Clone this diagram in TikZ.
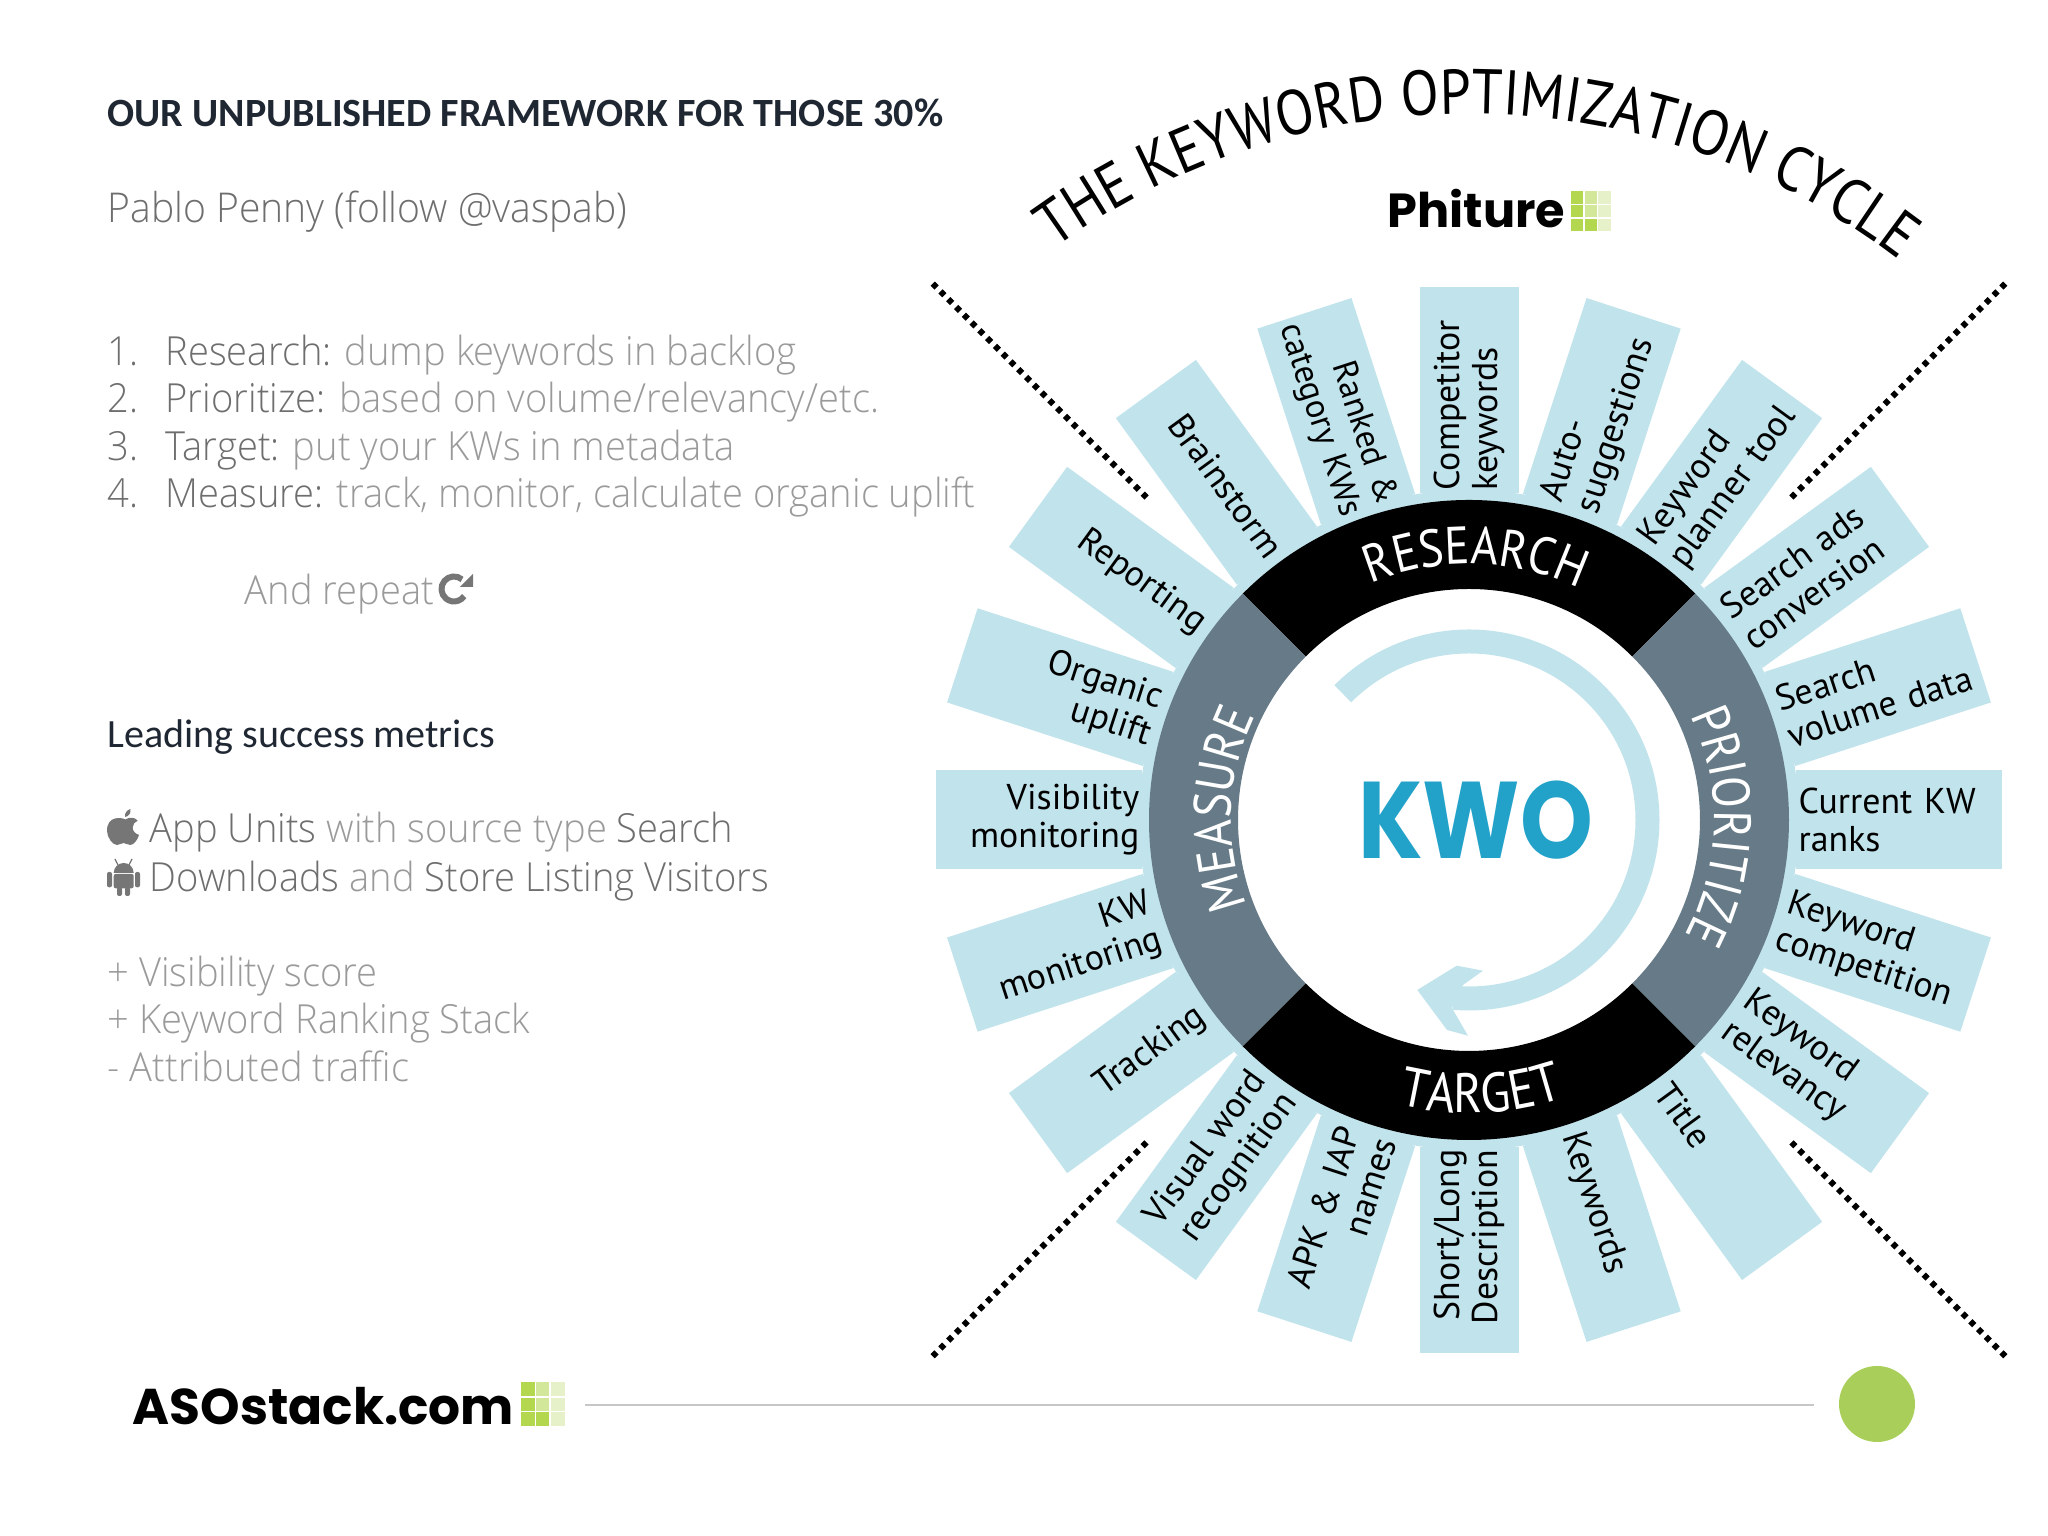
\documentclass[tikz,border=0pt]{standalone}
\usepackage{fontspec}
\setmainfont[WordSpace=0.7]{PT Sans}
\newfontfamily\headfont{Carlito}
\newfontfamily\leadfont[FakeStretch=0.95]{Open Sans Light}
\newfontfamily\brandfont{Poppins}
\newfontfamily\kwofont[FakeStretch=0.85]{Poppins}
\newfontfamily\archfont[FakeStretch=0.88]{PT Sans}
\usetikzlibrary{positioning,calc,decorations.text}
\definecolor{bladeblue}{HTML}{C1E3EB}
\definecolor{ringgrey}{HTML}{667B87}
\definecolor{kwoblue}{HTML}{23A2C9}
\definecolor{inkdark}{HTML}{1F2733}
\definecolor{inkmid}{HTML}{6E6E6E}
\definecolor{inklight}{HTML}{9A9A9A}
\definecolor{icongrey}{HTML}{767676}
\definecolor{tileA}{HTML}{B3D850}
\definecolor{tileB}{HTML}{D2E79A}
\definecolor{tileC}{HTML}{E6F1C9}
\definecolor{dotgreen}{HTML}{A9CF5A}
\tikzstyle{bladebase} = [rectangle, fill=bladeblue, inner xsep=.03cm, inner ysep=0, %
   minimum height=.99cm, text width=2cm, font=\fontsize{10.2}{10.8}\selectfont]
\tikzstyle{bladeout} = [bladebase, anchor=west, align=left]
\tikzstyle{bladein} = [bladebase, anchor=east, align=right]
\tikzstyle{heading} = [anchor=base west, inner sep=0, text=inkdark]
\tikzstyle{leadline} = [anchor=base west, inner sep=0, font=\leadfont\fontsize{11.4}{13}\selectfont]
\tikzstyle{ringtext} = [decorate, decoration={text along path, text align=center, %
   text color=white}]
\tikzstyle{cutline} = [line width=.06cm, dash pattern=on .055cm off .055cm]
\tikzset{tiles/.pic={
   \fill[tileC] (0,0) rectangle (1,1);
   \fill[tileA] (0,0) rectangle (.32,1);
   \fill[tileB] (.34,0) rectangle (.66,1);
   \fill[tileA] (.34,0) rectangle (.66,.32);
   \draw[white, line width=.015cm] (0,.33) -- (1,.33) (0,.66) -- (1,.66) (.33,0) -- (.33,1) (.66,0) -- (.66,1);
}}

\begin{document}
\begin{tikzpicture}
   \useasboundingbox (0,0) rectangle (20.48,15.36);

   % LEFT COLUMN %%%%%%%%%%%%%%%%%%%%%%%%%%%%%%%%%%%%%%%%%%%%%%%%%%
   \node[heading, font=\headfont\bfseries\fontsize{11.4}{13}\selectfont] (framework) at (1.07,14.09)
      {OUR UNPUBLISHED FRAMEWORK FOR THOSE 30\%};
   \node[leadline, text=inkmid, font=\leadfont\fontsize{11.7}{13}\selectfont] (author) at (1.07,13.13) {Pablo Penny (follow @vaspab)};

   \node[leadline, text=inkmid] (num1) at (1.07,11.70) {1.};
   \node[leadline, text=inkmid, below=.47 of num1.base west, anchor=base west] (num2) {2.};
   \node[leadline, text=inkmid, below=.48 of num2.base west, anchor=base west] (num3) {3.};
   \node[leadline, text=inkmid, below=.47 of num3.base west, anchor=base west] (num4) {4.};
   \node[leadline, text=inklight] (step1) at (1.65,11.70) {\textcolor{inkmid}{Research:} dump keywords in backlog};
   \node[leadline, text=inklight, below=.47 of step1.base west, anchor=base west] (step2)
      {\textcolor{inkmid}{Prioritize:} based on volume/relevancy/etc.};
   \node[leadline, text=inklight, below=.48 of step2.base west, anchor=base west] (step3)
      {\textcolor{inkmid}{Target:} put your KWs in metadata};
   \node[leadline, text=inklight, below=.47 of step3.base west, anchor=base west] (step4)
      {\textcolor{inkmid}{Measure:} track, monitor, calculate organic uplift};
   \node[leadline, text=inklight] (repeat) at (2.44,9.31) {And repeat};
   \coordinate (repeaticon) at (4.54,9.47);
   \draw[icongrey, line width=.06cm] ($(repeaticon)+(50:.125)$) arc (50:325:.125);
   \fill[icongrey] ($(repeaticon)+(.19,.15)$) -- ($(repeaticon)+(.19,.02)$) -- ($(repeaticon)+(.06,.02)$) -- cycle;

   \node[heading, font=\headfont\fontsize{11.4}{13}\selectfont] (metrics) at (1.07,7.88) {Leading success metrics};
   \node[leadline, text=inklight] (units) at (1.49,6.93)
      {\textcolor{inkmid}{App Units} with source type \textcolor{inkmid}{Search}};
   \node[leadline, text=inklight, below=.49 of units.base west, anchor=base west] (visits)
      {\textcolor{inkmid}{Downloads} and \textcolor{inkmid}{Store Listing Visitors}};
   \begin{scope}[shift={(1.07,6.91)}]
      \fill[icongrey] (.183,.255) .. controls (.14,.28) and (0,.29) .. (0,.143)
         .. controls (0,.07) and (.06,0) .. (.10,0) .. controls (.13,0) and (.14,.02) .. (.167,.02)
         .. controls (.19,.02) and (.2,0) .. (.233,0) .. controls (.27,0) and (.31,.06) .. (.32,.10)
         .. controls (.28,.115) and (.255,.14) .. (.257,.177) .. controls (.257,.21) and (.28,.23) .. (.307,.243)
         .. controls (.28,.28) and (.22,.28) .. (.183,.255) -- cycle;
      \fill[icongrey] (.18,.28) .. controls (.175,.32) and (.2,.35) .. (.235,.36)
         .. controls (.24,.32) and (.22,.285) .. (.18,.28) -- cycle;
   \end{scope}
   \begin{scope}[shift={(1.07,6.40)}]
      \fill[icongrey] (.067,.23) arc (180:0:.1) -- cycle;
      \fill[icongrey, rounded corners=.02cm] (.067,.077) rectangle (.267,.22);
      \fill[icongrey, rounded corners=.02cm] (0,.087) rectangle (.05,.24);
      \fill[icongrey, rounded corners=.02cm] (.28,.087) rectangle (.33,.24);
      \fill[icongrey, rounded corners=.02cm] (.10,0) rectangle (.15,.09);
      \fill[icongrey, rounded corners=.02cm] (.18,0) rectangle (.23,.09);
      \draw[icongrey, line width=.012cm] (.11,.31) -- (.08,.37) (.22,.31) -- (.25,.37);
   \end{scope}

   \node[leadline, text=inklight] (score) at (1.07,5.49) {+ Visibility score};
   \node[leadline, text=inklight, below=.47 of score.base west, anchor=base west] (stack) {+ Keyword Ranking Stack};
   \node[leadline, text=inklight, below=.48 of stack.base west, anchor=base west] (traffic) {- Attributed traffic};

   % FOOTER %%%%%%%%%%%%%%%%%%%%%%%%%%%%%%%%%%%%%%%%%%%%%%%%%%%%%%%
   \node[anchor=base west, inner sep=0, font=\brandfont\bfseries\fontsize{14.3}{16}\selectfont] (aso) at (1.32,1.11) {ASOstack.com};
   \pic[scale=.44] at (5.21,1.10) {tiles};
   \coordinate (rulestart) at (5.85,1.31);
   \coordinate (ruleend) at (18.14,1.31);
   \draw[black!22, line width=.015cm] (rulestart) -- (ruleend);
   \node[circle, fill=dotgreen, minimum size=.76cm, inner sep=0] (dot) at (18.77,1.32) {};

   % WHEEL %%%%%%%%%%%%%%%%%%%%%%%%%%%%%%%%%%%%%%%%%%%%%%%%%%%%%%%%
   \begin{scope}[shift={(14.69,7.16)}]
      \draw[decorate, decoration={text along path, text align=center,
         text={|\archfont\fontsize{18}{18}\selectfont|THE KEYWORD OPTIMIZATION CYCLE}}]
         (135:7.06) arc (135:43.4:7.06);
      \node[anchor=base west, inner sep=0, font=\brandfont\bfseries\fontsize{13.6}{14}\selectfont] (phiture) at (-.82,5.92) {Phiture};
      \pic[scale=.40] at (1.02,5.89) {tiles};

      % Cut lines
      \draw[cutline] (45:4.56) -- (45:7.62);
      \draw[cutline] (135:4.56) -- (135:7.62);
      \draw[cutline] (225:4.56) -- (225:7.62);
      \draw[cutline] (315:4.56) -- (315:7.62);

      % Blades
      \fill[bladeblue, even odd rule] (0,0) circle (3.3) circle (3);
      \node[bladeout, rotate=90] (competitor) at (90:3.26) {Competitor\\keywords};
      \node[bladeout, rotate=72] (auto) at (72:3.26) {Auto-\\suggestions};
      \node[bladeout, rotate=54] (planner) at (54:3.26) {Keyword\\planner tool};
      \node[bladeout, rotate=36] (ads) at (36:3.26) {Search ads\\conversion};
      \node[bladeout, rotate=18] (volume) at (18:3.26) {Search\\volume data};
      \node[bladeout, rotate=0] (ranks) at (0:3.26) {Current KW\\ranks};
      \node[bladeout, rotate=-18] (competition) at (-18:3.26) {Keyword\\competition};
      \node[bladeout, rotate=-36] (relevancy) at (-36:3.26) {Keyword\\relevancy};
      \node[bladeout, rotate=-54] (title) at (-54:3.26) {Title};
      \node[bladeout, rotate=-72] (keywords) at (-72:3.26) {Keywords};
      \node[bladein, rotate=90] (description) at (270:3.26) {Short/Long\\Description};
      \node[bladein, rotate=72] (apk) at (252:3.26) {APK \& IAP\\names};
      \node[bladein, rotate=54] (visual) at (234:3.26) {Visual word\\recognition};
      \node[bladein, rotate=36] (tracking) at (216:3.26) {Tracking};
      \node[bladein, rotate=18] (kwmon) at (198:3.26) {KW\\monitoring};
      \node[bladein, rotate=0] (visibility) at (180:3.26) {Visibility\\monitoring};
      \node[bladein, rotate=-18] (organic) at (162:3.26) {Organic\\uplift};
      \node[bladein, rotate=-36] (reporting) at (144:3.26) {Reporting};
      \node[bladein, rotate=-54] (brainstorm) at (126:3.26) {Brainstorm};
      \node[bladein, rotate=-72, inner xsep=0, text width=2.06cm, font=\fontsize{9.8}{10.8}\selectfont] (ranked) at (108:3.26) {Ranked \&\\category KWs};

      % Ring
      \fill[black] (45:3.2) arc (45:135:3.2) -- (135:2.31) arc (135:45:2.31) -- cycle;
      \fill[black] (225:3.2) arc (225:315:3.2) -- (315:2.31) arc (315:225:2.31) -- cycle;
      \fill[ringgrey] (135:3.2) arc (135:225:3.2) -- (225:2.31) arc (225:135:2.31) -- cycle;
      \fill[ringgrey] (-45:3.2) arc (-45:45:3.2) -- (45:2.31) arc (45:-45:2.31) -- cycle;
      \path[ringtext, decoration={text={|\archfont\fontsize{15}{16}\selectfont|RESEARCH}}] (128:2.56) arc (128:49:2.56);
      \path[ringtext, decoration={text={|\archfont\fontsize{15}{16}\selectfont|PRIORITIZE}}] (43:2.45) arc (43:-46:2.45);
      \path[ringtext, decoration={text={|\archfont\fontsize{15.8}{16}\selectfont|TARGET}}] (235:2.93) arc (235:310:2.93);
      \path[ringtext, decoration={text={|\archfont\fontsize{15}{16}\selectfont|MEASURE}}] (222:2.38) arc (222:133:2.38);

      % Swirl
      \draw[bladeblue, line width=.24cm] (135:1.785) arc (135:-95:1.785);
      \fill[bladeblue] (-.517,-1.70) -- (-.123,-1.457) -- (.14,-1.507) -- (-.06,-1.65)
         -- (-.17,-1.88) -- (-.01,-2.157) -- (-.22,-2.10) -- cycle;
      \node[inner sep=0, text=kwoblue, font=\kwofont\bfseries\fontsize{31}{34}\selectfont] (kwo) at (.065,.0) {KWO};
   \end{scope}
\end{tikzpicture}
\end{document}
